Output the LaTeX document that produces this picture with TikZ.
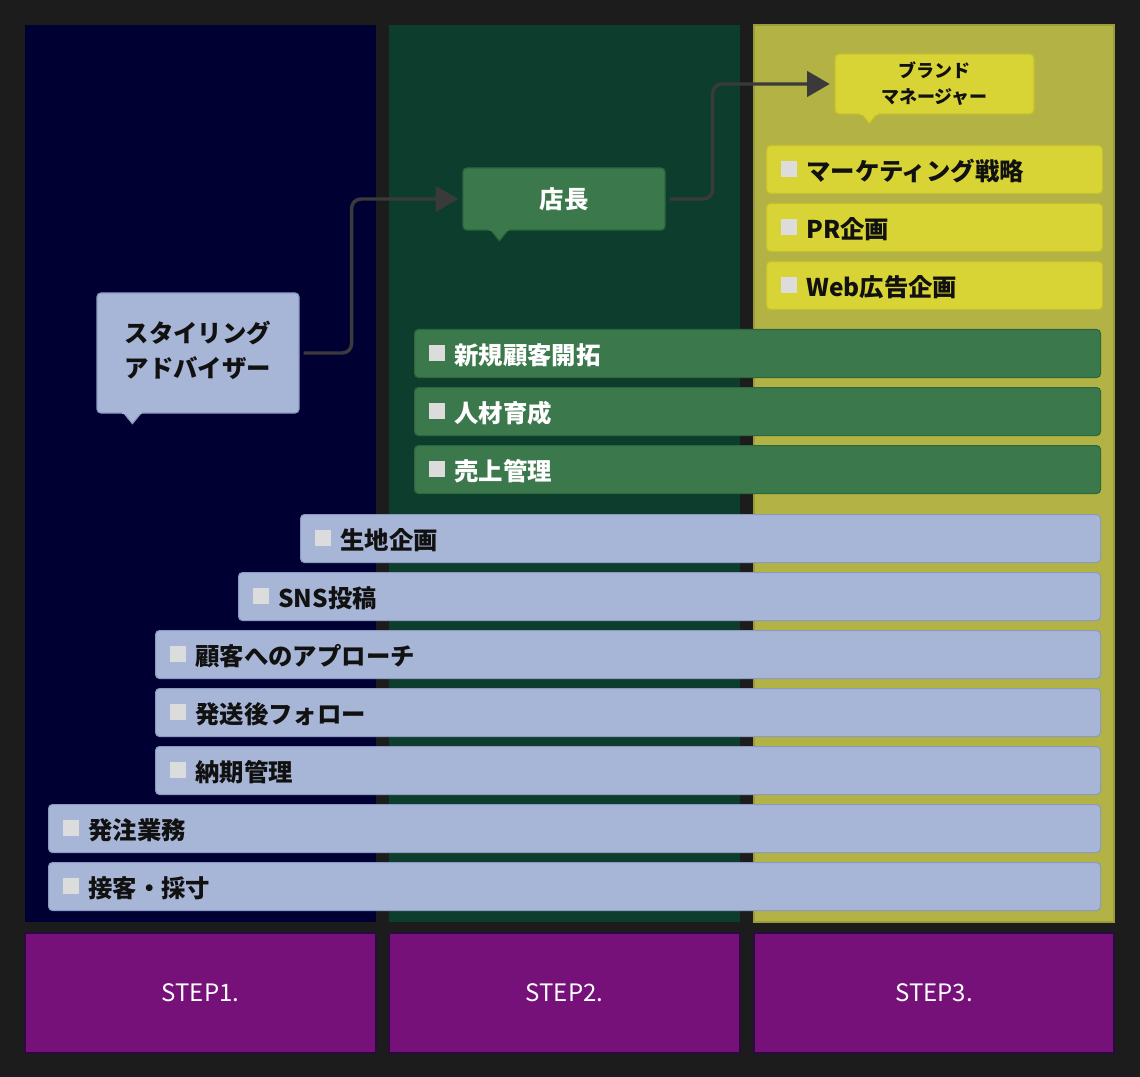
\documentclass[tikz,border=0pt]{standalone}
\usepackage{fontspec}
\setmainfont{Noto Sans CJK JP}
\usepackage{tikz}
\usetikzlibrary{arrows.meta,calc}

\definecolor{bggray}{HTML}{1C1C1C}
\definecolor{colnavy}{HTML}{000033}
\definecolor{colgreen}{HTML}{0D3D2C}
\definecolor{cololive}{HTML}{B3B245}
\definecolor{oliveedge}{HTML}{9C9B3A}
\definecolor{steppurple}{HTML}{76117A}
\definecolor{stepedge}{HTML}{2B0A40}
\definecolor{arrowgray}{HTML}{3A3A3A}
\definecolor{barblue}{HTML}{A7B6D6}
\definecolor{barblueedge}{HTML}{8A9AC2}
\definecolor{bargreen}{HTML}{3B784C}
\definecolor{bargreenedge}{HTML}{2D683D}
\definecolor{baryellow}{HTML}{D8D436}
\definecolor{baryellowedge}{HTML}{C4C02E}
\definecolor{mkgray}{HTML}{DCDCDC}
\definecolor{inkblack}{HTML}{111111}

\begin{document}
\begin{tikzpicture}[x=0.75pt, y=-0.75pt]
    \tikzstyle{stepbox} = [rectangle, draw=stepedge, fill=steppurple, line width=1.2pt, minimum width=263.25pt, minimum height=90pt, text=white, font=\fontsize{18}{22}\selectfont]
    \tikzstyle{bubble} = [rectangle, rounded corners=3pt, line width=0.9pt, align=center, font=\bfseries\fontsize{18.3}{26}\selectfont]
    \tikzstyle{bar} = [rectangle, rounded corners=3pt, line width=0.8pt, anchor=north west, minimum height=36pt, inner sep=0pt]
    \tikzstyle{bartext} = [anchor=west, inner sep=0pt, font=\bfseries\fontsize{18.3}{22}\selectfont]
    \tikzstyle{conn} = [draw=arrowgray, line width=2.6pt, rounded corners=7pt, -{Triangle[length=17pt, width=19pt]}]

    % Background
    \useasboundingbox (0,0) rectangle (1140,1077);
    \fill[bggray] (0,0) rectangle (1140,1077);

    % Columns
    \fill[colnavy] (25,25) rectangle (376,922);
    \fill[colgreen] (389,25) rectangle (740,922);
    \filldraw[fill=cololive, draw=oliveedge, line width=0.8pt] (754,25) rectangle (1114,922);

    % Steps
    \node[stepbox] (s1) at (200.5,993) {STEP1.};
    \node[stepbox] (s2) at (564.5,993) {STEP2.};
    \node[stepbox, minimum width=270pt] (s3) at (934,993) {STEP3.};

    % Bubbles
    \node[bubble, fill=barblue, draw=barblueedge, text=inkblack, minimum width=151.5pt, minimum height=90pt, text depth=6pt] (adv) at (198,353) {スタイリング\\アドバイザー};
    \node[bubble, fill=bargreen, draw=bargreenedge, text=white, minimum width=151.5pt, minimum height=46.5pt] (shop) at (564,199) {店長};
    \node[bubble, fill=baryellow, draw=baryellowedge, text=inkblack, minimum width=149.25pt, minimum height=45pt, font=\bfseries\fontsize{13.5}{19.5}\selectfont] (brand) at (934.5,84) {ブランド\\マネージャー};

    % Bubble tails
    \filldraw[fill=barblue, draw=barblueedge, line width=0.9pt] ($(adv.south west)+(27,-1)$) -- ++(9,11) -- ++(9,-11);
    \fill[barblue] ($(adv.south west)+(26,-3)$) rectangle ++(20,3);
    \filldraw[fill=bargreen, draw=bargreenedge, line width=0.9pt] ($(shop.south west)+(28,-1)$) -- ++(9,11) -- ++(9,-11);
    \fill[bargreen] ($(shop.south west)+(27,-3)$) rectangle ++(20,3);
    \filldraw[fill=baryellow, draw=baryellowedge, line width=0.9pt] ($(brand.south west)+(27,-1)$) -- ++(8,10) -- ++(8,-10);
    \fill[baryellow] ($(brand.south west)+(26,-3)$) rectangle ++(18,3);

    % Arrows
    \coordinate (bend1) at ($(adv.east)+(52,0)$);
    \coordinate (bend2) at ($(shop.east)+(47,0)$);
    \draw[conn, shorten <=3pt, shorten >=3pt] (adv.east) -- (bend1) |- (shop.west);
    \draw[conn, shorten <=3pt, shorten >=3.5pt] (shop.east) -- (bend2) |- (brand.west);

    % Step 3 tasks
    \foreach \y/\n/\t in {145/y1/マーケティング戦略, 203/y2/PR企画, 261/y3/Web広告企画} {
        \node[bar, fill=baryellow, draw=baryellowedge, minimum width=252pt] (\n) at (766,\y) {};
        \fill[mkgray] (781,\y+16) rectangle ++(16,16);
        \node[bartext, text=inkblack] (\n-t) at (806,\y+26) {\t};
    }

    % Step 2 tasks
    \foreach \y/\n/\t in {329/g1/新規顧客開拓, 387/g2/人材育成, 445/g3/売上管理} {
        \node[bar, fill=bargreen, draw=bargreenedge, minimum width=514.5pt] (\n) at (414,\y) {};
        \fill[mkgray] (429,\y+16) rectangle ++(16,16);
        \node[bartext, text=white] (\n-t) at (454,\y+26) {\t};
    }

    % Step 1 tasks
    \foreach \x/\y/\n/\t in {300/514/b1/生地企画, 238/572/b2/SNS投稿, 155/630/b3/顧客へのアプローチ,
        155/688/b4/発送後フォロー, 155/746/b5/納期管理, 48/804/b6/発注業務, 48/862/b7/接客・採寸} {
        \node[bar, fill=barblue, draw=barblueedge, minimum width={(1100-\x)*0.75pt}] (\n) at (\x,\y) {};
        \fill[mkgray] (\x+15,\y+16) rectangle ++(16,16);
        \node[bartext, text=inkblack] (\n-t) at (\x+40,\y+26) {\t};
    }
\end{tikzpicture}
\end{document}
